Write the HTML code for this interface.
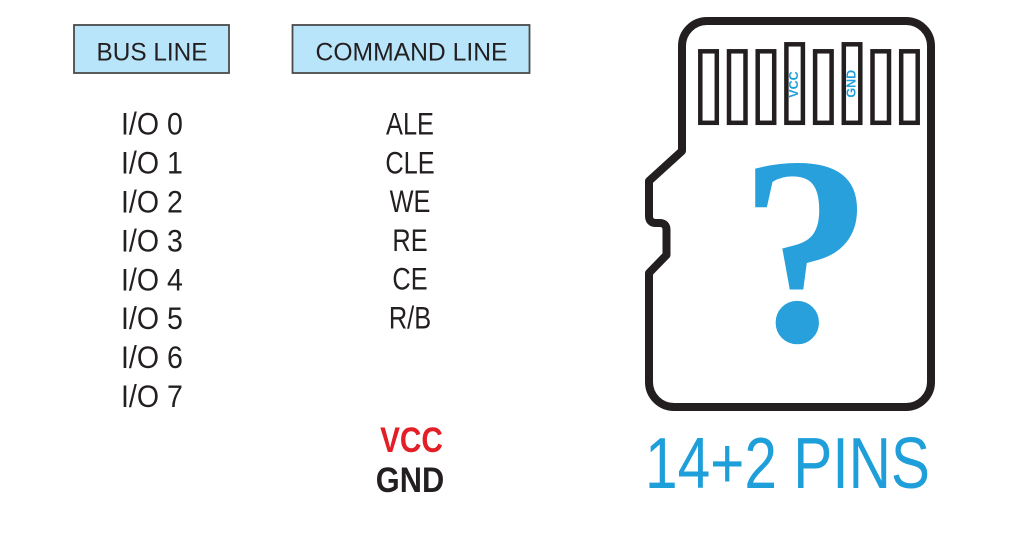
<!DOCTYPE html>
<html>
<head>
<meta charset="utf-8">
<style>
  html, body { margin: 0; padding: 0; background: #ffffff; }
  body { width: 1024px; height: 543px; overflow: hidden; }
  svg { display: block; }
  .sans { font-family: "Liberation Sans", "DejaVu Sans", sans-serif; }
  .serif { font-family: "Liberation Serif", "DejaVu Serif", serif; }
</style>
</head>
<body>
<svg width="1024" height="543" viewBox="0 0 1024 543" xmlns="http://www.w3.org/2000/svg">
  <rect x="0" y="0" width="1024" height="543" fill="#ffffff"/>

  <!-- Header boxes -->
  <rect x="74" y="25" width="155" height="48" fill="#b8e5fa" stroke="#4a4a4a" stroke-width="1.8"/>
  <rect x="292.5" y="25" width="237" height="48" fill="#b8e5fa" stroke="#4a4a4a" stroke-width="1.8"/>
  <text class="sans" x="96.5" y="60.7" font-size="25" fill="#231f20" textLength="111" lengthAdjust="spacingAndGlyphs">BUS LINE</text>
  <text class="sans" x="315.5" y="60.7" font-size="25" fill="#231f20" textLength="192" lengthAdjust="spacingAndGlyphs">COMMAND LINE</text>

  <!-- I/O column -->
  <g class="sans" fill="#231f20" font-size="31.7">
    <g transform="translate(121,0) scale(0.9,1)">
      <text x="0" y="134.7">I/O 0</text>
      <text x="0" y="173.6">I/O 1</text>
      <text x="0" y="212.5">I/O 2</text>
      <text x="0" y="251.4">I/O 3</text>
      <text x="0" y="290.3">I/O 4</text>
      <text x="0" y="329.2">I/O 5</text>
      <text x="0" y="368.1">I/O 6</text>
      <text x="0" y="407.0">I/O 7</text>
    </g>
  </g>

  <!-- Command column -->
  <g class="sans" fill="#231f20" font-size="31.7" text-anchor="middle">
    <g transform="translate(410,0) scale(0.8,1)">
      <text x="0" y="134.5">ALE</text>
      <text x="0" y="173.3">CLE</text>
      <text x="0" y="212.1">WE</text>
      <text x="0" y="250.9">RE</text>
      <text x="0" y="289.7">CE</text>
      <text x="0" y="328.5">R/B</text>
    </g>
  </g>

  <!-- VCC / GND -->
  <g class="sans" font-size="35" font-weight="bold" text-anchor="middle">
    <g transform="translate(411.5,0) scale(0.85,1)">
      <text x="0" y="452" fill="#e31e26">VCC</text>
    </g>
    <g transform="translate(410,0) scale(0.88,1)">
      <text x="0" y="492" fill="#231f20">GND</text>
    </g>
  </g>

  <!-- Card outline -->
  <path d="M 682 46
           A 25 25 0 0 1 707 21
           H 906
           A 25 25 0 0 1 931 46
           V 382
           A 25 25 0 0 1 906 407
           H 674
           A 25 25 0 0 1 649 382
           V 273
           L 666.5 255
           V 230
           Q 666.5 223 659.5 223
           H 656
           Q 649 223 649 216
           V 181
           L 682 151
           Z"
        fill="none" stroke="#231f20" stroke-width="8" stroke-linejoin="round"/>

  <!-- Pins -->
  <g fill="#ffffff" stroke="#231f20" stroke-width="4.5">
    <rect x="700.3" y="51.3" width="16.5" height="71.5"/>
    <rect x="729"   y="51.3" width="16.5" height="71.5"/>
    <rect x="757.7" y="51.3" width="16.5" height="71.5"/>
    <rect x="786.4" y="44.3" width="16.5" height="78.5"/>
    <rect x="815.1" y="51.3" width="16.5" height="71.5"/>
    <rect x="843.8" y="44.3" width="16.5" height="78.5"/>
    <rect x="872.5" y="51.3" width="16.5" height="71.5"/>
    <rect x="901.2" y="51.3" width="16.5" height="71.5"/>
  </g>
  <g class="sans" font-size="12.5" font-weight="bold" fill="#1e9fd9" text-anchor="middle">
    <text transform="translate(798.2,84.5) rotate(-90)">VCC</text>
    <text transform="translate(855.7,83.7) rotate(-90)">GND</text>
  </g>

  <!-- Question mark -->
  <text class="serif" x="806" y="340.5" font-size="268" font-weight="bold" fill="#27a0db" text-anchor="middle">?</text>

  <!-- 14+2 PINS -->
  <text class="sans" x="645" y="488" font-size="72" fill="#1e9fd9" textLength="285" lengthAdjust="spacingAndGlyphs">14+2 PINS</text>
</svg>
</body>
</html>
